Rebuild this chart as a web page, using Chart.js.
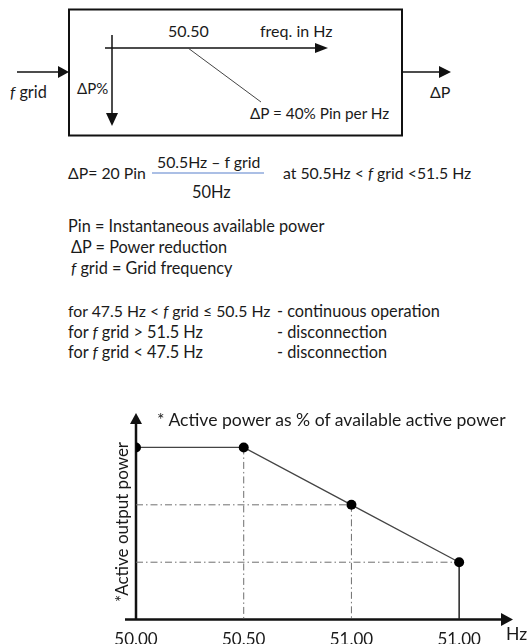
<!DOCTYPE html>
<html>
<head>
<meta charset="utf-8">
<script src="https://cdn.jsdelivr.net/npm/chart.js@4.4.0/dist/chart.umd.min.js"></script>
<style>
    body { margin: 0; background: #fff; }
    #page { position: relative; width: 528px; height: 644px; overflow: hidden; font-family: Lato, 'Open Sans', sans-serif; color: #1a1a1a; }
    .t { position: absolute; white-space: pre; font-size: 16px; line-height: 18px; }
    .f { font-size: 15.8px; }
    .s { font-size: 16.3px; }
    .big { font-size: 17.6px; line-height: 20px; }
    #diagram { position: absolute; left: 0; top: 0; }
    #chartBox { position: absolute; left: 0; top: 400px; width: 528px; height: 260px; }
    #yTitle { position: absolute; left: 22px; top: 513px; width: 200px; text-align: center; transform: rotate(-90deg); font-size: 17px; }
</style>
</head>
<body>
<div id="page">
    <svg id="diagram" width="528" height="400">
        <rect x="69" y="9.5" width="333" height="126" fill="none" stroke="#111" stroke-width="2"/>
        <!-- input / output arrows -->
        <line x1="17" y1="72" x2="62" y2="72" stroke="#111" stroke-width="1.5"/>
        <polygon points="58,66 69,72 58,78" fill="#111"/>
        <line x1="402" y1="72" x2="443" y2="72" stroke="#111" stroke-width="1.5"/>
        <polygon points="439,66 451,72 439,78" fill="#111"/>
        <!-- inner characteristic -->
        <line x1="105" y1="48" x2="318" y2="48" stroke="#111" stroke-width="1.5"/>
        <polygon points="315,43 328,48 315,53" fill="#111"/>
        <line x1="112" y1="35" x2="112" y2="116" stroke="#111" stroke-width="1.5"/>
        <polygon points="106,113 112,126 118,113" fill="#111"/>
        <line x1="188" y1="48" x2="261" y2="102" stroke="#444" stroke-width="1"/>
        <!-- fraction bar -->
        <line x1="152" y1="173" x2="264" y2="173" stroke="#8faadc" stroke-width="1.5"/>
    </svg>

    <div class="t s" style="left:10px; top:83px;"><i>f</i> grid</div>
    <div class="t" style="left:77px; top:79px; font-size:15px;">ΔP%</div>
    <div class="t" style="left:168px; top:22px;">50.50</div>
    <div class="t" style="left:260px; top:22px;">freq. in Hz</div>
    <div class="t" style="left:250px; top:104px; font-size:15.3px;">ΔP = 40% Pin per Hz</div>
    <div class="t" style="left:430px; top:83px;">ΔP</div>

    <div class="t f" style="left:68px; top:164px;">ΔP= 20 Pin</div>
    <div class="t f" style="left:157px; top:153px;">50.5Hz – f grid</div>
    <div class="t f" style="left:192px; top:183px; font-size:16.4px;">50Hz</div>
    <div class="t f" style="left:283px; top:164px;">at 50.5Hz &lt; <i>f</i> grid &lt;51.5 Hz</div>

    <div class="t s" style="left:68px; top:217px;">Pin = Instantaneous available power</div>
    <div class="t s" style="left:71px; top:238px;">ΔP = Power reduction</div>
    <div class="t s" style="left:71px; top:259px;"><i>f</i> grid = Grid frequency</div>

    <div class="t f" style="left:68px; top:302px;">for 47.5 Hz &lt; <i>f</i> grid ≤ 50.5 Hz</div>
    <div class="t s" style="left:277px; top:302px;">- continuous operation</div>
    <div class="t s" style="left:68px; top:323px;">for <i>f</i> grid &gt; 51.5 Hz</div>
    <div class="t s" style="left:277px; top:323px;">- disconnection</div>
    <div class="t s" style="left:68px; top:343px;">for <i>f</i> grid &lt; 47.5 Hz</div>
    <div class="t s" style="left:277px; top:343px;">- disconnection</div>

    <div id="chartBox"><canvas id="droopChart"></canvas></div>
    <div class="t big" style="left:157px; top:410px;">* Active power as % of available active power</div>
    <div id="yTitle" class="t">*Active output power</div>
    <div class="t big" style="left:506px; top:624px;">Hz</div>
</div>

<script>
// Frequency / power characteristic
const freqHz = [50.0, 50.5, 51.0, 51.5];
const tickLabels = ['50.00', '50.50', '51.00', '51.00'];
const activePower = [100, 100, 80, 60];

const xMin = 50, xMax = 51.75;
const yMin = 40, yMax = 112;

function guide(points, dashed) {
    return {
        data: points,
        borderColor: dashed ? '#6f6f6f' : '#222',
        borderWidth: dashed ? 1 : 1.5,
        borderDash: dashed ? [7, 3, 1.5, 3] : [],
        pointRadius: 0,
        fill: false
    };
}

// Axes with arrow heads, drawn from the chart area
const arrowAxes = {
    id: 'arrowAxes',
    beforeDatasetsDraw(chart) {
        const { ctx, chartArea: a } = chart;
        ctx.save();
        ctx.strokeStyle = '#111';
        ctx.fillStyle = '#111';
        ctx.lineWidth = 2.5;
        ctx.beginPath();
        ctx.moveTo(a.left, a.bottom);
        ctx.lineTo(a.left, a.top + 8);
        ctx.moveTo(a.left - 11, a.bottom);
        ctx.lineTo(a.right - 8, a.bottom);
        ctx.stroke();
        ctx.beginPath();
        ctx.moveTo(a.left, a.top);
        ctx.lineTo(a.left - 6, a.top + 11);
        ctx.lineTo(a.left + 6, a.top + 11);
        ctx.closePath();
        ctx.fill();
        ctx.beginPath();
        ctx.moveTo(a.right, a.bottom);
        ctx.lineTo(a.right - 12, a.bottom - 6.5);
        ctx.lineTo(a.right - 12, a.bottom + 6.5);
        ctx.closePath();
        ctx.fill();
        ctx.restore();
    }
};

function initChart() {
    const points = freqHz.map((f, i) => ({ x: f, y: activePower[i] }));
    const datasets = [{
        data: points,
        borderColor: '#444',
        borderWidth: 1.3,
        pointRadius: 5,
        pointBackgroundColor: '#000',
        pointBorderWidth: 0,
        fill: false
    }];

    // dash-dot drop lines from the inner points
    for (let i = 1; i < freqHz.length - 1; i++) {
        datasets.push(guide([{ x: freqHz[i], y: activePower[i] }, { x: freqHz[i], y: yMin }], true));
    }
    for (let i = 2; i < freqHz.length; i++) {
        datasets.push(guide([{ x: xMin, y: activePower[i] }, { x: freqHz[i], y: activePower[i] }], true));
    }
    // solid cut-off at the last point
    const last = freqHz.length - 1;
    datasets.push(guide([{ x: freqHz[last], y: activePower[last] }, { x: freqHz[last], y: yMin }], false));

    new Chart(document.getElementById('droopChart'), {
        type: 'line',
        data: { datasets: datasets },
        options: {
            responsive: true,
            maintainAspectRatio: false,
            animation: false,
            layout: { padding: { left: 136, right: 15, top: 13, bottom: 0 } },
            plugins: { legend: { display: false }, tooltip: { enabled: false } },
            scales: {
                x: {
                    type: 'linear',
                    min: xMin,
                    max: xMax,
                    grid: { display: false, drawTicks: false },
                    border: { display: false },
                    afterBuildTicks: scale => { scale.ticks = freqHz.map(v => ({ value: v })); },
                    ticks: {
                        autoSkip: false,
                        maxRotation: 0,
                        padding: 10,
                        color: '#1a1a1a',
                        font: { family: 'Lato', size: 17 },
                        callback: (value, index) => tickLabels[index]
                    }
                },
                y: {
                    display: false,
                    min: yMin,
                    max: yMax
                }
            }
        },
        plugins: [arrowAxes]
    });
}

initChart();
</script>
</body>
</html>
